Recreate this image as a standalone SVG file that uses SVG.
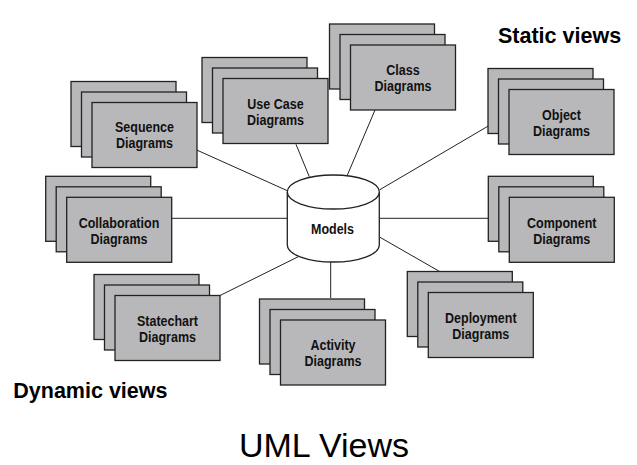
<svg xmlns="http://www.w3.org/2000/svg" width="637" height="465" viewBox="0 0 637 465">
<style>
.bx{fill:#b8b8ba;stroke:#222;stroke-width:1.3}
.lb{font-family:"Liberation Sans",Arial,sans-serif;font-weight:bold;font-size:14.5px;fill:#111;text-anchor:middle}
.ttl{font-family:"Liberation Sans",Arial,sans-serif;font-weight:bold;font-size:21.5px;fill:#000}
.cn{stroke:#222;stroke-width:1;fill:none}
</style>
<defs>
<g id="stack">
<rect class="bx" x="0" y="0" width="105" height="65"/>
<rect class="bx" x="10.5" y="10.5" width="105" height="65"/>
<rect class="bx" x="21" y="21" width="105" height="65"/>
</g>
</defs>
<rect width="637" height="465" fill="#fff"/>
<g id="connectors">
<line class="cn" x1="196.7" y1="150" x2="287.3" y2="190.7"/>
<line class="cn" x1="296" y1="144.3" x2="309.3" y2="176.7"/>
<line class="cn" x1="375" y1="110" x2="346.7" y2="176.7"/>
<line class="cn" x1="488.3" y1="126" x2="379.3" y2="190"/>
<line class="cn" x1="171.7" y1="218.3" x2="287.3" y2="218.3"/>
<line class="cn" x1="220" y1="295.5" x2="298.3" y2="256.7"/>
<line class="cn" x1="379.3" y1="218.3" x2="488.3" y2="218.3"/>
<line class="cn" x1="380" y1="237.3" x2="440" y2="271.7"/>
<line class="cn" x1="330.7" y1="262" x2="330.7" y2="298"/>
</g>
<g id="models">
<path d="M287.3,192 L287.3,245 A46,17 0 0 0 379.3,245 L379.3,192" fill="#fff" stroke="#222" stroke-width="1.3"/>
<ellipse cx="333.3" cy="192" rx="46" ry="17" fill="#fff" stroke="#222" stroke-width="1.3"/>
<text class="lb" x="332.5" y="234" font-size="15.5" textLength="43" lengthAdjust="spacingAndGlyphs">Models</text>
</g>
<g id="sequence">
<use href="#stack" x="71" y="81.5"/>
<text class="lb" x="144.5" y="131.5" textLength="59" lengthAdjust="spacingAndGlyphs">Sequence</text>
<text class="lb" x="144.5" y="147.5" textLength="57" lengthAdjust="spacingAndGlyphs">Diagrams</text>
</g>
<g id="usecase">
<use href="#stack" x="202" y="57.5"/>
<text class="lb" x="275.5" y="108.5" textLength="56.3" lengthAdjust="spacingAndGlyphs">Use Case</text>
<text class="lb" x="275.5" y="124.5" textLength="57" lengthAdjust="spacingAndGlyphs">Diagrams</text>
</g>
<g id="class">
<use href="#stack" x="329.5" y="24"/>
<text class="lb" x="403" y="75" textLength="33.4" lengthAdjust="spacingAndGlyphs">Class</text>
<text class="lb" x="403" y="91" textLength="57" lengthAdjust="spacingAndGlyphs">Diagrams</text>
</g>
<g id="object">
<use href="#stack" x="488" y="68.5"/>
<text class="lb" x="561.5" y="120" textLength="38.9" lengthAdjust="spacingAndGlyphs">Object</text>
<text class="lb" x="561.5" y="136" textLength="57" lengthAdjust="spacingAndGlyphs">Diagrams</text>
</g>
<g id="collaboration">
<use href="#stack" x="45.7" y="176.3"/>
<text class="lb" x="119" y="227.5" textLength="80.6" lengthAdjust="spacingAndGlyphs">Collaboration</text>
<text class="lb" x="119" y="243.5" textLength="57" lengthAdjust="spacingAndGlyphs">Diagrams</text>
</g>
<g id="statechart">
<use href="#stack" x="94" y="274.5"/>
<text class="lb" x="167.5" y="325.5" textLength="61.1" lengthAdjust="spacingAndGlyphs">Statechart</text>
<text class="lb" x="167.5" y="341.5" textLength="57" lengthAdjust="spacingAndGlyphs">Diagrams</text>
</g>
<g id="component">
<use href="#stack" x="488.3" y="176.3"/>
<text class="lb" x="561.8" y="227.5" textLength="69.4" lengthAdjust="spacingAndGlyphs">Component</text>
<text class="lb" x="561.8" y="243.5" textLength="57" lengthAdjust="spacingAndGlyphs">Diagrams</text>
</g>
<g id="deployment">
<use href="#stack" x="407.3" y="271.5"/>
<text class="lb" x="480.8" y="322.5" textLength="71.5" lengthAdjust="spacingAndGlyphs">Deployment</text>
<text class="lb" x="480.8" y="338.5" textLength="57" lengthAdjust="spacingAndGlyphs">Diagrams</text>
</g>
<g id="activity">
<use href="#stack" x="259.5" y="299"/>
<text class="lb" x="333" y="350" textLength="45.2" lengthAdjust="spacingAndGlyphs">Activity</text>
<text class="lb" x="333" y="366" textLength="57" lengthAdjust="spacingAndGlyphs">Diagrams</text>
</g>
<text class="ttl" x="498" y="43.3">Static views</text>
<text class="ttl" x="13.3" y="398">Dynamic views</text>
<text x="324" y="457" font-family="'Liberation Sans',Arial,sans-serif" font-size="34" fill="#000" text-anchor="middle">UML Views</text>
</svg>
